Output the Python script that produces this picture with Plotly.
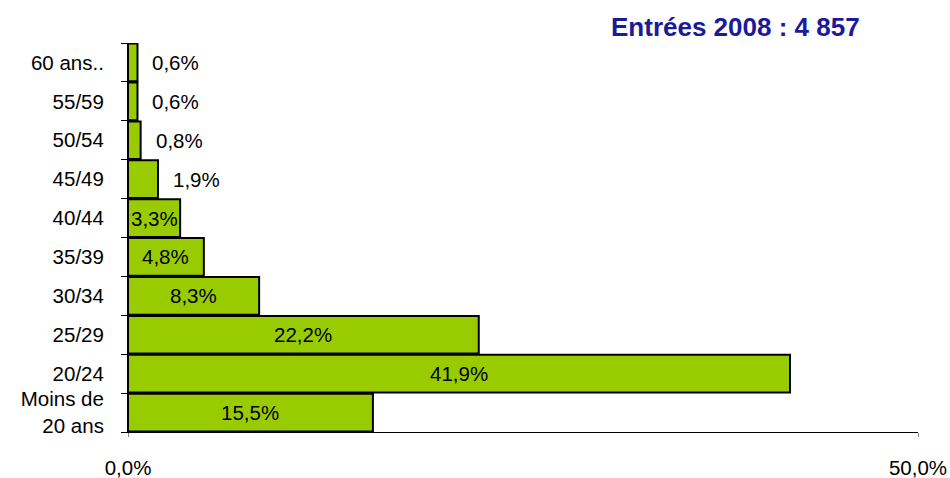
import plotly.graph_objects as go

categories = ["Moins de<br>20 ans", "20/24", "25/29", "30/34", "35/39", "40/44",
              "45/49", "50/54", "55/59", "60 ans.."]
values = [15.5, 41.9, 22.2, 8.3, 4.8, 3.3, 1.9, 0.8, 0.6, 0.6]
labels = ["15,5%", "41,9%", "22,2%", "8,3%", "4,8%", "3,3%", "1,9%", "0,8%", "0,6%", "0,6%"]
title_text = "Entrées 2008 : 4 857"
x_tickvals = [0, 50]
x_ticktext = ["0,0%", "50,0%"]

FONT = "Liberation Sans, Arial, sans-serif"
FS = 20.5

fig = go.Figure()
fig.add_trace(go.Bar(
    y=categories, x=values, orientation="h",
    marker=dict(color="#99CC00", line=dict(color="black", width=2)),
    hoverinfo="skip",
))

for c, v, t in zip(categories, values, labels):
    if v >= 3:
        fig.add_annotation(x=v / 2, y=c, text=t, showarrow=False,
                           xanchor="center", font=dict(family=FONT, size=FS, color="black"))
    else:
        fig.add_annotation(x=v, y=c, text=t, showarrow=False, xanchor="left", xshift=13,
                           font=dict(family=FONT, size=FS, color="black"))

fig.add_annotation(x=0.9291, y=1, xref="paper", yref="paper", xanchor="right",
                   yanchor="middle", yshift=16, text="<b>" + title_text + "</b>",
                   showarrow=False, font=dict(family=FONT, size=26, color="#1A1A9A"))

fig.update_layout(
    width=950, height=478,
    margin=dict(l=128, r=32, t=43, b=46, autoexpand=False),
    paper_bgcolor="white", plot_bgcolor="white",
    bargap=0.03, showlegend=False,
    font=dict(family=FONT, size=FS, color="black"),
    xaxis=dict(range=[0, 50], tickvals=x_tickvals, ticktext=x_ticktext,
               showline=True, linecolor="black", linewidth=1, ticks="outside",
               ticklen=4, tickcolor="#888", showgrid=False, zeroline=False,
               automargin=False,
               ticklabelstandoff=13, tickfont=dict(family=FONT, size=FS)),
    yaxis=dict(type="category", categoryorder="array", categoryarray=categories,
               showline=True, linecolor="black", linewidth=1, ticks="outside",
               tickson="boundaries", ticklen=6, tickcolor="black", showgrid=False,
               automargin=False,
               ticklabelstandoff=19, tickfont=dict(family=FONT, size=FS)),
)

fig.write_html("out.html", config={"displayModeBar": False},
               post_script="document.body.style.margin='0';")
